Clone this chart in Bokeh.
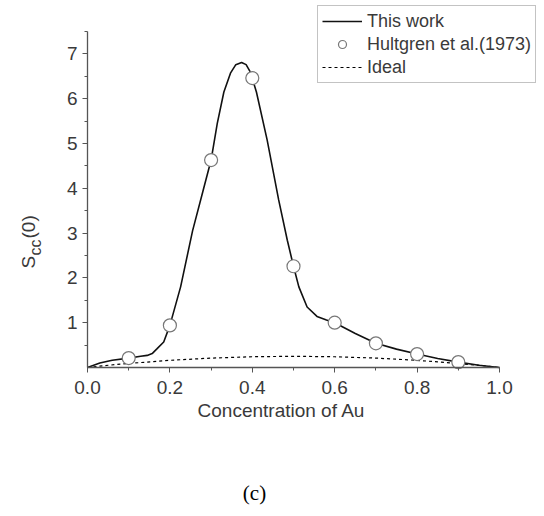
import math
from bokeh.plotting import figure
from bokeh.models import Range1d, FixedTicker, Legend, LegendItem, Label, CustomJSTickFormatter
from bokeh.embed import file_html
from bokeh.resources import INLINE

# Model curve (This work)
curve_x = [0.0, 0.03, 0.06, 0.1, 0.129, 0.145, 0.157, 0.169, 0.185, 0.2, 0.226, 0.255, 0.28, 0.3,
           0.315, 0.331, 0.347, 0.36, 0.374, 0.385, 0.395, 0.41, 0.436, 0.464, 0.485, 0.5,
           0.513, 0.533, 0.557, 0.58, 0.6, 0.65, 0.7, 0.75, 0.8, 0.85, 0.9, 0.95, 1.0]
curve_y = [0.0, 0.1, 0.16, 0.21, 0.25, 0.27, 0.31, 0.42, 0.57, 0.94, 1.8, 3.05, 3.93, 4.63,
           5.45, 6.15, 6.57, 6.76, 6.81, 6.76, 6.6, 6.15, 5.08, 3.74, 2.84, 2.26,
           1.8, 1.35, 1.14, 1.06, 1.0, 0.76, 0.54, 0.41, 0.3, 0.2, 0.12, 0.05, 0.0]

# Experimental points (Hultgren et al. 1973)
exp_x = [0.1, 0.2, 0.3, 0.4, 0.5, 0.6, 0.7, 0.8, 0.9]
exp_y = [0.21, 0.94, 4.63, 6.46, 2.26, 1.0, 0.54, 0.3, 0.12]

# Ideal curve
ideal_x = [0.0, 0.05, 0.1, 0.2, 0.3, 0.4, 0.5, 0.6, 0.7, 0.8, 0.9, 0.95, 1.0]
ideal_y = [0.0, 0.05, 0.09, 0.16, 0.21, 0.24, 0.25, 0.24, 0.21, 0.16, 0.09, 0.05, 0.0]

x_ticks = [0.0, 0.2, 0.4, 0.6, 0.8, 1.0]
x_minor = [0.1, 0.3, 0.5, 0.7, 0.9]
y_ticks = [1, 2, 3, 4, 5, 6, 7]
y_minor = [0.5, 1.5, 2.5, 3.5, 4.5, 5.5, 6.5, 7.5]
x_bounds = (0.0, 1.0)
y_bounds = (0.0, 7.5)

FONT = "Liberation Sans"
TXT = "#3a3a3a"
AX = "#555555"

# The frame fills the whole canvas; axes are pinned at x=0 / y=0.
W, H = 536, 508
X0, X1 = 87, 499      # canvas px of x=0 and x=1
Y0, YT = 367, 31      # canvas px of y=0 and y=7.5
xs = (X1 - X0) / (x_bounds[1] - x_bounds[0])
ys = (Y0 - YT) / (y_bounds[1] - y_bounds[0])
x_range = Range1d(x_bounds[0] - X0 / xs, x_bounds[0] + (W - X0) / xs)
y_range = Range1d(y_bounds[0] - (H - Y0) / ys, y_bounds[0] + Y0 / ys)

p = figure(width=W, height=H, output_backend="svg", toolbar_location=None,
           x_range=x_range, y_range=y_range, min_border=0)
p.outline_line_color = None
p.xgrid.visible = False
p.ygrid.visible = False
p.background_fill_color = "white"

l_ideal = p.line(ideal_x, ideal_y, line_color="black", line_width=1.2, line_dash="3 3")
l_model = p.line(curve_x, curve_y, line_color="#111111", line_width=1.6)
s_exp = p.scatter(exp_x, exp_y, marker="circle", size=13, fill_color="white",
                  line_color="#777777", line_width=1.2)

for ax in (p.xaxis[0], p.yaxis[0]):
    ax.fixed_location = 0
    ax.axis_line_color = AX
    ax.axis_line_width = 1.3
    ax.major_tick_line_color = AX
    ax.minor_tick_line_color = AX
    ax.major_tick_out = 5
    ax.major_tick_in = 0
    ax.minor_tick_out = 3
    ax.minor_tick_in = 0
    ax.major_label_text_font = FONT
    ax.major_label_text_font_size = "19px"
    ax.major_label_text_color = TXT

p.xaxis[0].bounds = x_bounds
p.yaxis[0].bounds = y_bounds
p.xaxis[0].ticker = FixedTicker(ticks=x_ticks, minor_ticks=x_minor)
p.xaxis[0].formatter = CustomJSTickFormatter(code="return tick.toFixed(1);")
p.xaxis[0].major_label_standoff = 8
p.yaxis[0].ticker = FixedTicker(ticks=y_ticks, minor_ticks=y_minor)
p.yaxis[0].formatter = CustomJSTickFormatter(code="return tick.toFixed(0);")
p.yaxis[0].major_label_standoff = 5

legend = Legend(items=[
    LegendItem(label="This work", renderers=[l_model]),
    LegendItem(label="Hultgren et al.(1973)", renderers=[s_exp]),
    LegendItem(label="Ideal", renderers=[l_ideal]),
], location=(317, 425))
legend.label_text_font = FONT
legend.label_text_font_size = "18px"
legend.label_text_color = TXT
legend.glyph_width = 40
legend.glyph_height = 20
legend.label_height = 22
legend.label_standoff = 5
legend.spacing = 1
legend.padding = 4
legend.margin = 0
legend.border_line_color = "#888888"
legend.border_line_width = 1
legend.background_fill_color = "white"
legend.background_fill_alpha = 1
p.add_layout(legend)

# x axis title
p.add_layout(Label(x=281, y=98, x_units="screen", y_units="screen",
                   text="Concentration of Au", text_font=FONT, text_font_size="19px",
                   text_color=TXT, text_align="center", text_baseline="middle"))

# y axis title: S_cc(0), rotated
ang = math.pi / 2
p.add_layout(Label(x=28, y=240, x_units="screen", y_units="screen", angle=ang,
                   text="S", text_font=FONT, text_font_size="19px", text_color=TXT,
                   text_align="left", text_baseline="alphabetic"))
p.add_layout(Label(x=35, y=253, x_units="screen", y_units="screen", angle=ang,
                   text="cc", text_font=FONT, text_font_size="16px", text_color=TXT,
                   text_align="left", text_baseline="alphabetic"))
p.add_layout(Label(x=28, y=270, x_units="screen", y_units="screen", angle=ang,
                   text="(0)", text_font=FONT, text_font_size="19px", text_color=TXT,
                   text_align="left", text_baseline="alphabetic"))

# panel caption
p.add_layout(Label(x=254, y=16, x_units="screen", y_units="screen",
                   text="(c)", text_font="Liberation Serif", text_font_size="21px",
                   text_color="black", text_align="center", text_baseline="middle"))

open("out.html", "w").write(file_html(p, INLINE))
